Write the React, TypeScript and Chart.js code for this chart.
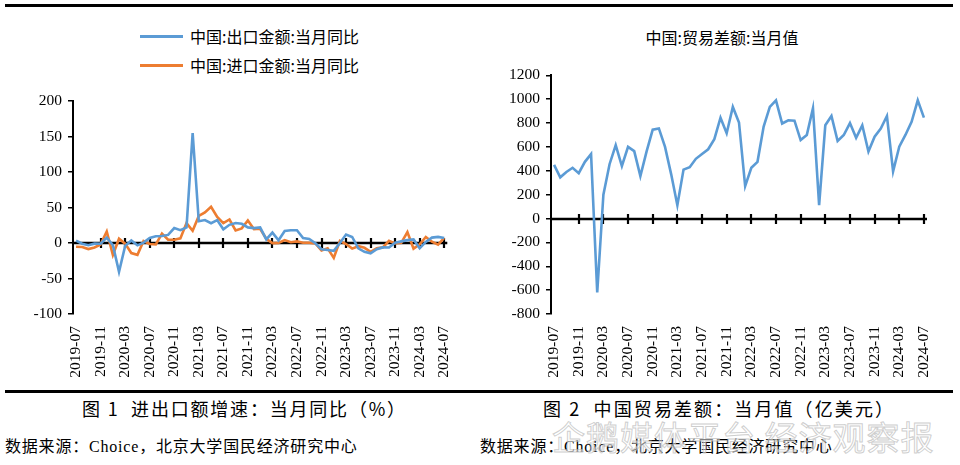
import React, { useEffect, useRef } from "react";
import { Chart, registerables } from "chart.js";
Chart.register(...registerables);

const months: string[] = [
  "2019-07", "2019-08", "2019-09", "2019-10", "2019-11", "2019-12",
  "2020-01", "2020-02", "2020-03", "2020-04", "2020-05", "2020-06", "2020-07", "2020-08", "2020-09", "2020-10", "2020-11", "2020-12",
  "2021-01", "2021-02", "2021-03", "2021-04", "2021-05", "2021-06", "2021-07", "2021-08", "2021-09", "2021-10", "2021-11", "2021-12",
  "2022-01", "2022-02", "2022-03", "2022-04", "2022-05", "2022-06", "2022-07", "2022-08", "2022-09", "2022-10", "2022-11", "2022-12",
  "2023-01", "2023-02", "2023-03", "2023-04", "2023-05", "2023-06", "2023-07", "2023-08", "2023-09", "2023-10", "2023-11", "2023-12",
  "2024-01", "2024-02", "2024-03", "2024-04", "2024-05", "2024-06", "2024-07",
];

const exportYoY: number[] = [
  3.3, -1.0, -3.2, -0.9, -1.1, 7.6,
  -3, -40.6, -4, 3.5, -3.3, 0.5, 7.2, 9.5, 9.9, 11.4, 21.1, 18.1,
  22, 154.9, 30.6, 32.3, 27.9, 32.2, 19.3, 25.6, 28.1, 27.1, 22.0, 20.9,
  22, 5, 14.7, 3.9, 16.9, 17.9, 18.0, 7.1, 5.7, -0.3, -8.7, -9.9,
  -11, 0, 12, 8.5, -7.5, -12.4, -14.5, -8.8, -6.2, -6.4, 0.5, 2.3,
  4, 5, -7.5, 1.5, 7.6, 8.6, 7.0,
];

const importYoY: number[] = [
  -5.3, -5.6, -8.5, -6.2, -2, 16.3,
  -17, 6, -0.9, -14.2, -16.7, 2.7, -1.4, -2.1, 13.2, 4.7, 4.5, 6.5,
  28, 17.3, 38.1, 43.1, 51.1, 36.7, 28.1, 33.1, 17.6, 20.6, 31.7, 19.5,
  20, 6, -0.1, 0.0, 4.1, 1.0, 2.3, 0.3, 0.3, -0.7, -10.6, -7.5,
  -21, 3, -1.4, -7.9, -4.5, -6.8, -12.4, -7.3, -6.2, 3.0, -0.6, 0.2,
  15.5, -8, -1.9, 8.4, 1.8, -2.3, 7.2,
];

const tradeBalance: number[] = [
  450, 345, 390, 425, 380, 475,
  540, -620, 200, 455, 615, 440, 600, 565, 355, 560, 745, 755,
  600, 370, 112, 410, 430, 500, 540, 580, 665, 845, 715, 935,
  805, 272, 425, 475, 770, 935, 990, 796, 823, 820, 657, 700,
  925, 112, 781, 859, 650, 700, 800, 676, 781, 562, 686, 754,
  859, 395, 602, 700, 810, 990, 845,
];

const leftSeriesNames = ["中国:出口金额:当月同比", "中国:进口金额:当月同比"];
const rightSeriesName = "中国:贸易差额:当月值";
const leftYTicks = { min: -100, max: 200, step: 50 };
const rightYTicks = { min: -800, max: 1200, step: 200 };
const labelEvery = 4;

const BLUE = "#5B9BD5";
const ORANGE = "#ED7D31";
const SERIF = "'Liberation Serif', 'Times New Roman', serif";
const CJK = "'Noto Sans CJK SC', 'Noto Sans', sans-serif";

Chart.defaults.font.family = SERIF;
Chart.defaults.font.size = 15;
Chart.defaults.color = "#000";

const zeroAxisPlugin = {
  id: "zeroAxis",
  beforeDatasetsDraw(chart: any) {
    const { ctx, chartArea, scales } = chart;
    const x = scales.x;
    const y = scales.y;
    const y0 = Math.round(y.getPixelForValue(0));
    ctx.save();
    ctx.strokeStyle = "#000";
    ctx.lineWidth = 2.5;
    ctx.beginPath();
    ctx.moveTo(chartArea.left, y0);
    ctx.lineTo(chartArea.right, y0);
    ctx.stroke();
    ctx.lineWidth = 2.2;
    ctx.beginPath();
    for (let i = labelEvery; i < months.length; i += labelEvery) {
      const px = Math.round(x.getPixelForValue(i));
      ctx.moveTo(px, y0 - 5);
      ctx.lineTo(px, y0 + 5);
    }
    ctx.stroke();
    ctx.restore();
  },
};

type Series = { data: number[]; color: string; label: string };

function LineChart(props: {
  series: Series[];
  yt: { min: number; max: number; step: number };
  yWidth: number;
  padTop: number;
  padRight: number;
  xHeight: number;
  width: number;
  height: number;
  style: React.CSSProperties;
}) {
  const ref = useRef<HTMLCanvasElement | null>(null);
  useEffect(() => {
    if (!ref.current) return;
    const tickFont = { family: SERIF, size: 15.5 };
    const chart = new Chart(ref.current, {
      type: "line",
      data: {
        labels: months,
        datasets: props.series.map((s) => ({
          label: s.label,
          data: s.data,
          borderColor: s.color,
          backgroundColor: s.color,
          borderWidth: 2.6,
          pointRadius: 0,
          tension: 0,
          fill: false,
        })),
      },
      options: {
        responsive: false,
        animation: false,
        events: [],
        layout: { padding: { top: props.padTop, right: props.padRight, left: 0, bottom: 0 } },
        plugins: { legend: { display: false }, tooltip: { enabled: false }, title: { display: false } },
        scales: {
          x: {
            type: "category",
            offset: true,
            grid: { display: false, drawTicks: false },
            border: { display: false },
            ticks: {
              autoSkip: false,
              maxRotation: 90,
              minRotation: 90,
              padding: 12,
              color: "#000",
              font: tickFont,
              callback: (_v: any, i: number) => (i % labelEvery === 0 ? months[i] : null),
            },
            afterFit: (scale: any) => {
              scale.height = props.xHeight;
            },
          },
          y: {
            min: props.yt.min,
            max: props.yt.max,
            border: { display: true, color: "#000", width: 2 },
            grid: { drawOnChartArea: false, drawTicks: true, tickLength: 5, color: "#000", lineWidth: 1.5 },
            ticks: {
              stepSize: props.yt.step,
              padding: 6,
              color: "#000",
              font: tickFont,
              callback: (v: any) => String(v),
            },
            afterFit: (scale: any) => {
              scale.width = props.yWidth;
            },
          },
        },
      },
      plugins: [zeroAxisPlugin],
    } as any);
    let alive = true;
    const fonts: any = (document as any).fonts;
    if (fonts && fonts.load) {
      Promise.all([fonts.load("15px 'Liberation Serif'"), fonts.load("15px 'Times New Roman'")])
        .catch(() => null)
        .then(() => {
          if (alive) chart.update();
        });
    }
    return () => {
      alive = false;
      chart.destroy();
    };
  }, []);
  return <canvas ref={ref} width={props.width} height={props.height} style={props.style} />;
}

export default function App() {
  const abs = (s: React.CSSProperties): React.CSSProperties => ({ position: "absolute", ...s });
  return (
    <div style={{ position: "fixed", left: 0, top: 0, width: 960, height: 465, background: "#fff", overflow: "hidden" }}>
      <div style={abs({ left: 5, top: 4, width: 948, height: 3, background: "#000" })} />
      <div style={abs({ left: 5, top: 390, width: 948, height: 3, background: "#000" })} />

      {/* left legend */}
      <div style={abs({ left: 140, top: 35, width: 43, height: 3, background: BLUE })} />
      <div style={abs({ left: 190, top: 25, fontFamily: CJK, fontSize: 16, lineHeight: "22px", color: "#000", whiteSpace: "nowrap" })}>
        {leftSeriesNames[0]}
      </div>
      <div style={abs({ left: 140, top: 64, width: 43, height: 3, background: ORANGE })} />
      <div style={abs({ left: 190, top: 54, fontFamily: CJK, fontSize: 16, lineHeight: "22px", color: "#000", whiteSpace: "nowrap" })}>
        {leftSeriesNames[1]}
      </div>

      {/* right title */}
      <div style={abs({ left: 622, top: 26, width: 200, textAlign: "center", fontFamily: CJK, fontSize: 16, lineHeight: "22px", color: "#000", whiteSpace: "nowrap" })}>
        {rightSeriesName}
      </div>

      <LineChart
        series={[
          { data: exportYoY, color: BLUE, label: leftSeriesNames[0] },
          { data: importYoY, color: ORANGE, label: leftSeriesNames[1] },
        ]}
        yt={leftYTicks}
        yWidth={73}
        padTop={41}
        padRight={22}
        xHeight={71}
        width={475}
        height={325}
        style={abs({ left: 0, top: 60 })}
      />
      <LineChart
        series={[{ data: tradeBalance, color: BLUE, label: rightSeriesName }]}
        yt={rightYTicks}
        yWidth={71}
        padTop={13}
        padRight={28}
        xHeight={71}
        width={475}
        height={325}
        style={abs({ left: 480, top: 60 })}
      />

      {/* captions */}
      <div style={abs({ left: 82, top: 396, fontFamily: CJK, fontSize: 18, letterSpacing: 1.8, lineHeight: "24px", color: "#000", whiteSpace: "nowrap" })}>
        图 1&nbsp;&nbsp;进出口额增速：当月同比（%）
      </div>
      <div style={abs({ left: 543, top: 396, fontFamily: CJK, fontSize: 18, letterSpacing: 2.1, lineHeight: "24px", color: "#000", whiteSpace: "nowrap" })}>
        图 2&nbsp;&nbsp;中国贸易差额：当月值（亿美元）
      </div>
      <div style={abs({ left: 5, top: 434, fontFamily: CJK, fontSize: 16, letterSpacing: 0.8, lineHeight: "22px", color: "#000", whiteSpace: "nowrap" })}>
        数据来源：<span style={{ fontFamily: SERIF }}>Choice</span>，北京大学国民经济研究中心
      </div>
      <div style={abs({ left: 480, top: 434, fontFamily: CJK, fontSize: 16, letterSpacing: 0.8, lineHeight: "22px", color: "#000", whiteSpace: "nowrap" })}>
        数据来源：<span style={{ fontFamily: SERIF }}>Choice</span>，北京大学国民经济研究中心
      </div>

      {/* watermark */}
      <div
        style={abs({
          left: 552,
          top: 416,
          fontFamily: CJK,
          fontSize: 33,
          lineHeight: "40px",
          color: "rgba(255,255,255,0.5)",
          WebkitTextStroke: "1px rgba(185,185,185,0.7)",
          whiteSpace: "nowrap",
          letterSpacing: 1,
        } as React.CSSProperties)}
      >
        企鹅媒体平台 经济观察报
      </div>
    </div>
  );
}
